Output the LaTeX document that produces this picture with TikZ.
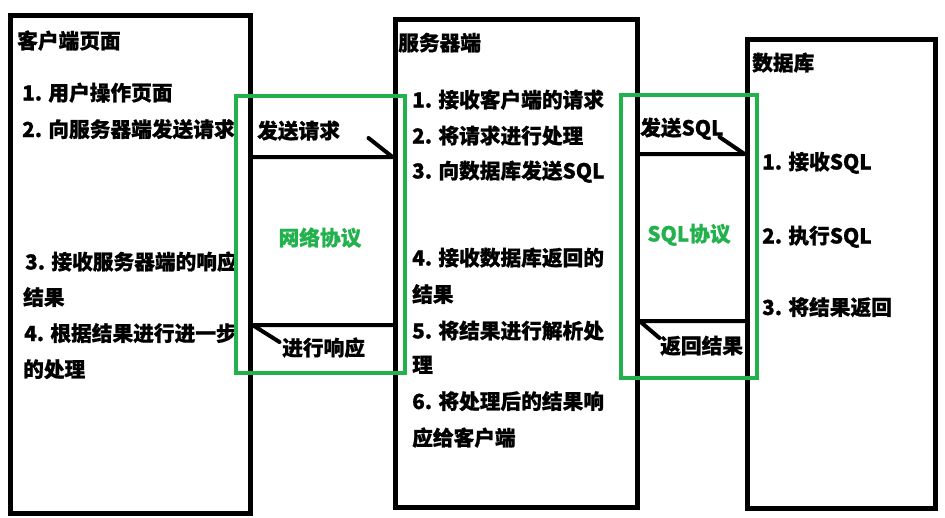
\documentclass[tikz,border=0pt]{standalone}
\usepackage{fontspec}
\setmainfont{Noto Sans CJK SC}[BoldFeatures={FakeBold=0.8}]
\usetikzlibrary{calc}
\definecolor{protogreen}{HTML}{22B14C}
\begin{document}
\begin{tikzpicture}[x=1pt,y=-1pt,
  tier/.style={draw=black,line width=5pt,inner sep=0pt},
  proto/.style={draw=protogreen,line width=4pt,inner sep=0pt},
  txt/.style={anchor=base west,inner sep=0pt,font=\fontsize{20.7}{24}\selectfont\bfseries},
  lbl/.style={anchor=base,inner sep=0pt,font=\fontsize{20.7}{24}\selectfont\bfseries,text=protogreen},
  msg/.style={line width=4pt,line cap=round,line join=round}]
\useasboundingbox (0,0) rectangle (945,517);
\fill[white] (0,0) rectangle (945,517);

% three tiers
\node[tier,minimum width=240,minimum height=498] (client) at (130,264) {};
\node[tier,minimum width=242,minimum height=488] (server) at (516,263) {};
\node[tier,minimum width=188,minimum height=469] (db) at (841,273.5) {};

% client side
\node[txt] (ctitle) at (17,48.5) {客户端页面};
\node[txt] (c1) at (22,100.5) {1. 用户操作页面};
\node[txt] (c2) at (22,137) {2. 向服务器端发送请求};
\node[txt] (c3) at (25,269.5) {3. 接收服务器端的响应};
\node[txt] (c3b) at (23,305) {结果};
\node[txt] (c4) at (24,341) {4. 根据结果进行进一步};
\node[txt] (c4b) at (23,377) {的处理};

% server side
\node[txt] (stitle) at (398,50.5) {服务器端};
\node[txt] (s1) at (412,107.5) {1. 接收客户端的请求};
\node[txt] (s2) at (412,143.5) {2. 将请求进行处理};
\node[txt] (s3) at (412,178.5) {3. 向数据库发送SQL};
\node[txt] (s4) at (412,265.5) {4. 接收数据库返回的};
\node[txt] (s4b) at (412,302) {结果};
\node[txt] (s5) at (412,338.5) {5. 将结果进行解析处};
\node[txt] (s5b) at (412,372.5) {理};
\node[txt] (s6) at (412,409) {6. 将处理后的结果响};
\node[txt] (s6b) at (412,445.5) {应给客户端};

% database side
\node[txt] (dtitle) at (752,70.5) {数据库};
\node[txt] (d1) at (762,169.5) {1. 接收SQL};
\node[txt] (d2) at (762,243.5) {2. 执行SQL};
\node[txt] (d3) at (762,315) {3. 将结果返回};

% messages between tiers
\coordinate (yreq) at (0,157);
\coordinate (yresp) at (0,325);
\coordinate (ysql) at (0,154);
\coordinate (yres) at (0,321);
\draw[msg] (client.east |- yreq) -- (server.west |- yreq) -- ++(-24,-19);
\draw[msg] (server.west |- yresp) -- (client.east |- yresp) -- ++(27,17);
\draw[msg] (server.east |- ysql) -- (db.west |- ysql) -- ++(-25,-17);
\draw[msg] (db.west |- yres) -- (server.east |- yres) -- ++(20,17);

\node[txt] (mreq) at (257,138.5) {发送请求};
\node[txt] (mresp) at (282,355.5) {进行响应};
\node[txt] (msql) at (640,135.5) {发送SQL};
\node[txt] (mres) at (660,353.5) {返回结果};

% protocol frames
\node[proto,minimum width=169,minimum height=277] (net) at (320.5,234.5) {};
\node[proto,minimum width=136,minimum height=283] (sqlp) at (689,236.5) {};
\node[lbl] (netlbl) at (320,245.5) {网络协议};
\node[lbl] (sqllbl) at (689,241.5) {SQL协议};
\end{tikzpicture}
\end{document}
